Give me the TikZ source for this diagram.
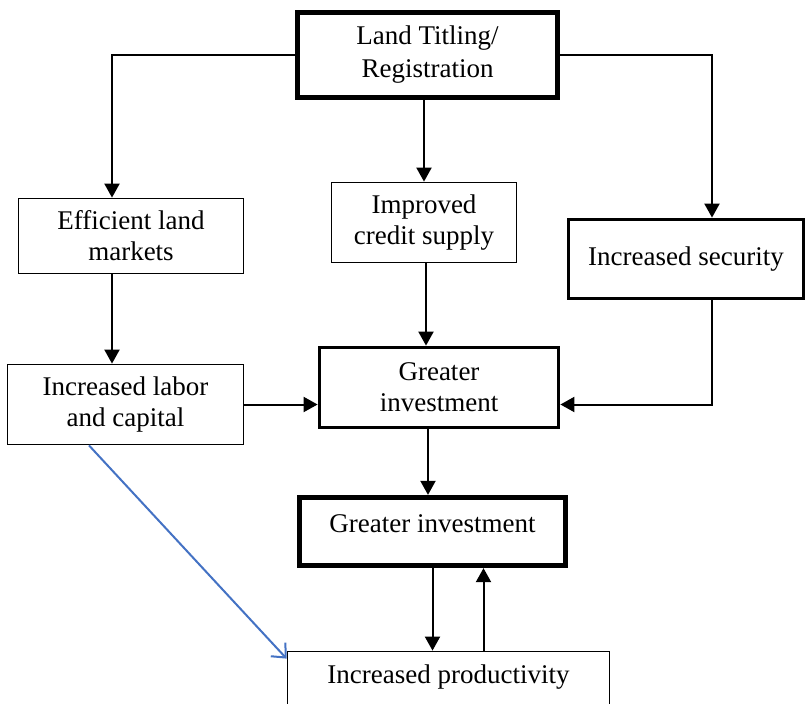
\documentclass[tikz,border=0pt]{standalone}
\usepackage{fontspec}
\setmainfont{Liberation Serif}
\usetikzlibrary{arrows.meta}
\definecolor{arrowblue}{RGB}{68,114,196}
\begin{document}
\begin{tikzpicture}[x=1pt,y=-1pt,
  box/.style={draw, line width=1.8pt, align=center, inner sep=0pt, font=\fontsize{27}{31}\selectfont},
  thickbox/.style={box, line width=3.8pt},
  arr/.style={line width=2pt, -{Triangle[width=15pt,length=14pt]}},
  bluearr/.style={line width=2pt, draw=arrowblue, -{Straight Barb[width=20pt,length=11pt,line width=2pt]}}]
\useasboundingbox (0,0) rectangle (806,704);
\fill[white] (0,0) rectangle (806,704);

\node[box, line width=5.5pt, minimum width=260pt, minimum height=85pt, font=\fontsize{27}{33}\selectfont] (top) at (427.5,55) {Land Titling/\\Registration};
\node[box, minimum width=225pt, minimum height=75pt] (eff) at (131,236) {Efficient land\\markets};
\node[box, minimum width=185pt, minimum height=80pt] (credit) at (424,222.5) {Improved\\credit supply};
\node[thickbox, minimum width=235pt, minimum height=79pt] (sec) at (686,259) {Increased security};
\node[box, minimum width=236pt, minimum height=80pt] (labor) at (125.5,404.5) {Increased labor\\and capital};
\node[thickbox, minimum width=239pt, minimum height=80pt] (gi1) at (439,387.5) {Greater\\investment};
\node[box, line width=4.8pt, minimum width=266.5pt, text height=34.75pt, text depth=33.75pt] (gi2) at (432.5,531.5) {Greater investment};
\node[box, anchor=north, minimum width=322pt, text height=32.4pt, text depth=40pt] (prod) at (448.5,650.6) {Increased productivity};

\draw[arr] (top.west) -| ([xshift=-19pt]eff.north);
\draw[arr] (credit.north |- top.south) -- (credit.north);
\draw[arr] (top.east) -| ([xshift=26pt]sec.north);
\draw[arr] ([xshift=-19pt]eff.south) -- ([xshift=-19pt]eff.south |- labor.north);
\draw[arr] ([xshift=2pt]credit.south) -- ([xshift=2pt]credit.south |- gi1.north);
\draw[arr] (labor.east) -- (labor.east -| gi1.west);
\draw[arr] ([xshift=26pt]sec.south) |- (labor.east -| gi1.east);
\draw[arr] ([xshift=-11pt]gi1.south) -- ([xshift=-11pt]gi1.south |- gi2.north);
\draw[arr] (gi2.south) -- (gi2.south |- prod.north);
\draw[arr] ([xshift=35pt]prod.north) -- ([xshift=35pt]prod.north |- gi2.south);
\draw[bluearr] ([xshift=-36.5pt]labor.south) -- ([yshift=-8pt]prod.north west);
\end{tikzpicture}
\end{document}
